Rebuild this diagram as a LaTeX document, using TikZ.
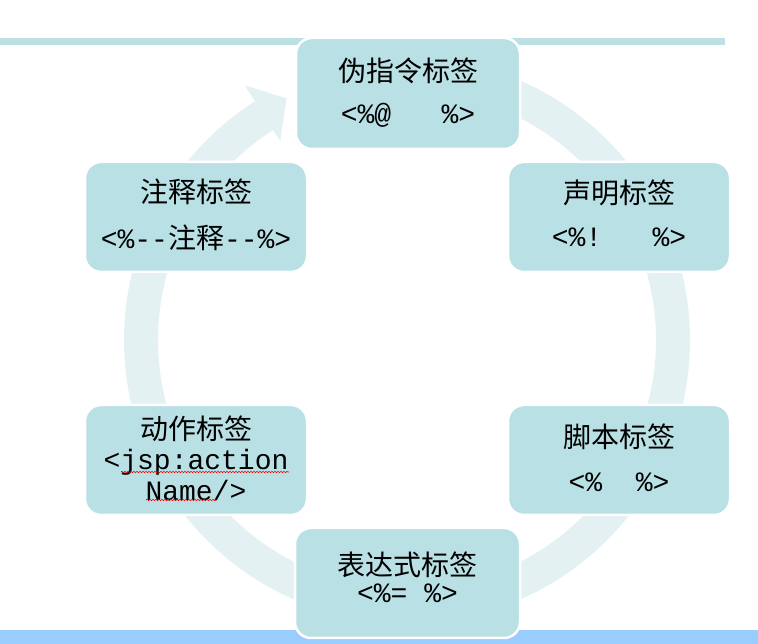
\documentclass[tikz,border=0pt]{standalone}
\usepackage{fontspec}
\setmonofont{Liberation Mono}
\newfontfamily\cjk{Noto Sans CJK SC}
\usetikzlibrary{calc,decorations.pathmorphing}
\definecolor{boxfill}{RGB}{185,224,228}
\definecolor{ringc}{RGB}{228,241,243}
\definecolor{barc}{RGB}{188,224,228}
\definecolor{botbar}{RGB}{153,204,255}
\begin{document}
\begin{tikzpicture}[x=1pt,y=1pt,
  tagbox/.style={draw=white, line width=2.5pt, fill=boxfill, rounded corners=16pt,
    minimum width=222pt, minimum height=110pt, inner sep=0pt},
  ttl/.style={font=\fontsize{28}{32}\selectfont\cjk, inner sep=0pt},
  code/.style={font=\fontsize{28}{32}\selectfont\ttfamily, inner sep=0pt},
  squig/.style={red, line width=0.6pt, decorate,
    decoration={snake, amplitude=0.7pt, segment length=3pt}}]
\useasboundingbox (0,0) rectangle (758,644);
\fill[white] (0,0) rectangle (758,644);
% bars
\fill[barc] (0,599) rectangle (725,606);
\fill[botbar] (0,0) rectangle (758,14);
% ring arrow
\coordinate (c) at (407,304);
\draw[ringc, line width=34pt] ($(c)+(95:266)$) arc[start angle=95, end angle=-237.5, radius=266];
\fill[ringc] ($(c)+(122.5:236)$) -- ($(c)+(116.5:270)$) -- ($(c)+(122.5:302)$) -- cycle;
% boxes
\node[tagbox, minimum width=224pt, minimum height=111pt] (tp) at (408,550.5) {};
\node[tagbox] (rt) at (619,427) {};
\node[tagbox] (rb) at (619,184) {};
\node[tagbox, minimum width=225pt] (bt) at (407.5,61) {};
\node[tagbox] (lb) at (196,184) {};
\node[tagbox] (lt) at (196,427) {};
% texts
\node[ttl] (tpT) at (408,573) {伪指令标签};
\node[code] (tpC) at (408,529) {<\%@~~~\%>};
\node[ttl] (rtT) at (619,451) {声明标签};
\node[code] (rtC) at (619,407) {<\%!~~~\%>};
\node[ttl] (rbT) at (619,207) {脚本标签};
\node[code] (rbC) at (619,162) {<\%~~\%>};
\node[ttl] (btT) at (407.5,79) {表达式标签};
\node[code] (btC) at (407.5,51) {<\%=~\%>};
\node[ttl] (lbT) at (196,215) {动作标签};
\node[code] (lbC1) at (196,182) {<jsp:action};
\node[code] (lbC2) at (196,154) {Name/>};
\node[ttl] (ltT) at (196,452.5) {注释标签};
\node[code] (ltC) at (196,406) {<\%-{}-{\cjk 注释}-{}-\%>};
% spell-check squiggles
\draw[squig] (121,172) -- (289,172);
\draw[squig] (146,144) -- (216,144);
\end{tikzpicture}
\end{document}
